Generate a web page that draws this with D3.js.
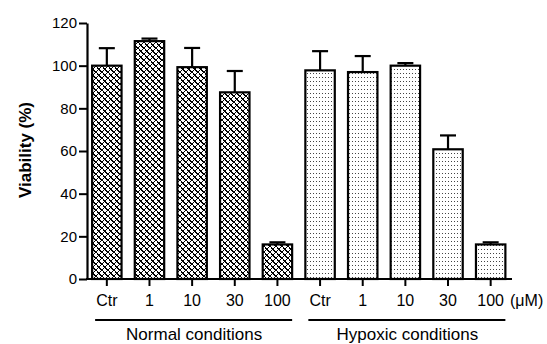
<!DOCTYPE html>
<html lang="en">
<head>
<meta charset="UTF-8">
<title>Viability</title>
<style>
    body { margin: 0; background: #fff; }
    svg text { font-family: "Liberation Sans", Arial, sans-serif; fill: #000; }
</style>
</head>
<body>
<div id="chart"></div>
<script src="https://d3js.org/d3.v7.min.js"></script>
<script>
    // Data
    const doses = ['Ctr', '1', '10', '30', '100'];
    const groups = ['Normal conditions', 'Hypoxic conditions'];
    const normalMean = [100, 111.5, 99.3, 87.5, 16.2];
    const normalErr = [8.2, 1.2, 9, 10, 1];
    const hypoxicMean = [97.8, 97, 100, 60.8, 16.2];
    const hypoxicErr = [9, 7.5, 1.2, 6.5, 1];
    const yTicks = [0, 20, 40, 60, 80, 100, 120];

    const rows = [];
    groups.forEach((g, gi) => {
        const m = gi === 0 ? normalMean : hypoxicMean;
        const e = gi === 0 ? normalErr : hypoxicErr;
        doses.forEach((d, i) => rows.push({ key: g + '|' + d, group: gi, dose: d, mean: m[i], err: e[i] }));
    });

    const W = 547, H = 344;
    const plotLeft = 87, plotRight = 512, plotTop = 23, plotBottom = 279;

    const svg = d3.select('#chart').append('svg')
        .attr('width', W).attr('height', H);

    // fill patterns
    const defs = svg.append('defs');
    const cross = defs.append('pattern')
        .attr('id', 'cross').attr('patternUnits', 'userSpaceOnUse')
        .attr('width', 6).attr('height', 6);
    cross.append('rect').attr('width', 6).attr('height', 6).attr('fill', '#fff');
    cross.append('path').attr('d', 'M0,0L6,6M6,0L0,6M-1,5L1,7M5,-1L7,1M-1,1L1,-1M5,7L7,5')
        .attr('stroke', '#000').attr('stroke-width', 1.4)
        .attr('shape-rendering', 'crispEdges');

    const dots = defs.append('pattern')
        .attr('id', 'dots').attr('patternUnits', 'userSpaceOnUse')
        .attr('width', 3).attr('height', 4);
    dots.append('rect').attr('width', 3).attr('height', 4).attr('fill', '#fff');
    dots.append('rect').attr('x', 1).attr('y', 1).attr('width', 1).attr('height', 1).attr('fill', '#444');

    const x = d3.scaleBand()
        .domain(rows.map(d => d.key))
        .range([87, 510.5])
        .paddingInner(0.31).paddingOuter(0.12);

    const y = d3.scaleLinear().domain([0, 120]).range([plotBottom, plotTop]);

    // error bars (upper only)
    const eb = svg.append('g').selectAll('g').data(rows).join('g');
    eb.append('line')
        .attr('x1', d => x(d.key) + x.bandwidth() / 2)
        .attr('x2', d => x(d.key) + x.bandwidth() / 2)
        .attr('y1', d => y(d.mean)).attr('y2', d => y(d.mean + d.err))
        .attr('stroke', '#000').attr('stroke-width', 2.2);
    eb.append('line')
        .attr('x1', d => x(d.key) + x.bandwidth() / 2 - 8)
        .attr('x2', d => x(d.key) + x.bandwidth() / 2 + 8)
        .attr('y1', d => y(d.mean + d.err)).attr('y2', d => y(d.mean + d.err))
        .attr('stroke', '#000').attr('stroke-width', 2.2);

    // bars
    svg.append('g').selectAll('rect').data(rows).join('rect')
        .attr('x', d => x(d.key))
        .attr('y', d => y(d.mean))
        .attr('width', x.bandwidth())
        .attr('height', d => y(0) - y(d.mean))
        .attr('fill', d => d.group === 0 ? 'url(#cross)' : 'url(#dots)')
        .attr('stroke', '#000').attr('stroke-width', 2.2);

    // y axis
    const yAxis = svg.append('g')
        .attr('transform', `translate(${plotLeft},0)`)
        .call(d3.axisLeft(y).tickValues(yTicks).tickSize(8).tickPadding(2).tickSizeOuter(0));
    yAxis.select('.domain').attr('stroke-width', 2.2);
    yAxis.selectAll('.tick line').attr('stroke-width', 2);
    yAxis.selectAll('text').style('font-size', '15px');

    // x axis
    svg.append('line')
        .attr('x1', plotLeft - 1).attr('x2', plotRight)
        .attr('y1', plotBottom).attr('y2', plotBottom)
        .attr('stroke', '#000').attr('stroke-width', 2.2);
    svg.append('g').selectAll('line').data(rows).join('line')
        .attr('x1', d => x(d.key) + x.bandwidth() / 2)
        .attr('x2', d => x(d.key) + x.bandwidth() / 2)
        .attr('y1', plotBottom).attr('y2', plotBottom + 7)
        .attr('stroke', '#000').attr('stroke-width', 2);
    svg.append('g').selectAll('text').data(rows).join('text')
        .attr('x', d => x(d.key) + x.bandwidth() / 2)
        .attr('y', 306)
        .attr('text-anchor', 'middle')
        .style('font-size', '16px')
        .text(d => d.dose);
    svg.append('text')
        .attr('x', 510).attr('y', 306)
        .style('font-size', '16px')
        .text('(\u03bcM)');

    // group brackets
    groups.forEach((g, gi) => {
        const first = x(g + '|' + doses[0]);
        const last = x(g + '|' + doses[doses.length - 1]) + x.bandwidth();
        svg.append('line')
            .attr('x1', first + 3).attr('x2', last)
            .attr('y1', 320).attr('y2', 320)
            .attr('stroke', '#000').attr('stroke-width', 2);
        svg.append('text')
            .attr('x', (first + last) / 2 + 2).attr('y', 340)
            .attr('text-anchor', 'middle')
            .style('font-size', '17px')
            .text(g);
    });

    // y label
    svg.append('text')
        .attr('transform', 'translate(31,150) rotate(-90)')
        .attr('text-anchor', 'middle')
        .style('font-size', '17px').style('font-weight', 'bold')
        .text('Viability (%)');
</script>
</body>
</html>
